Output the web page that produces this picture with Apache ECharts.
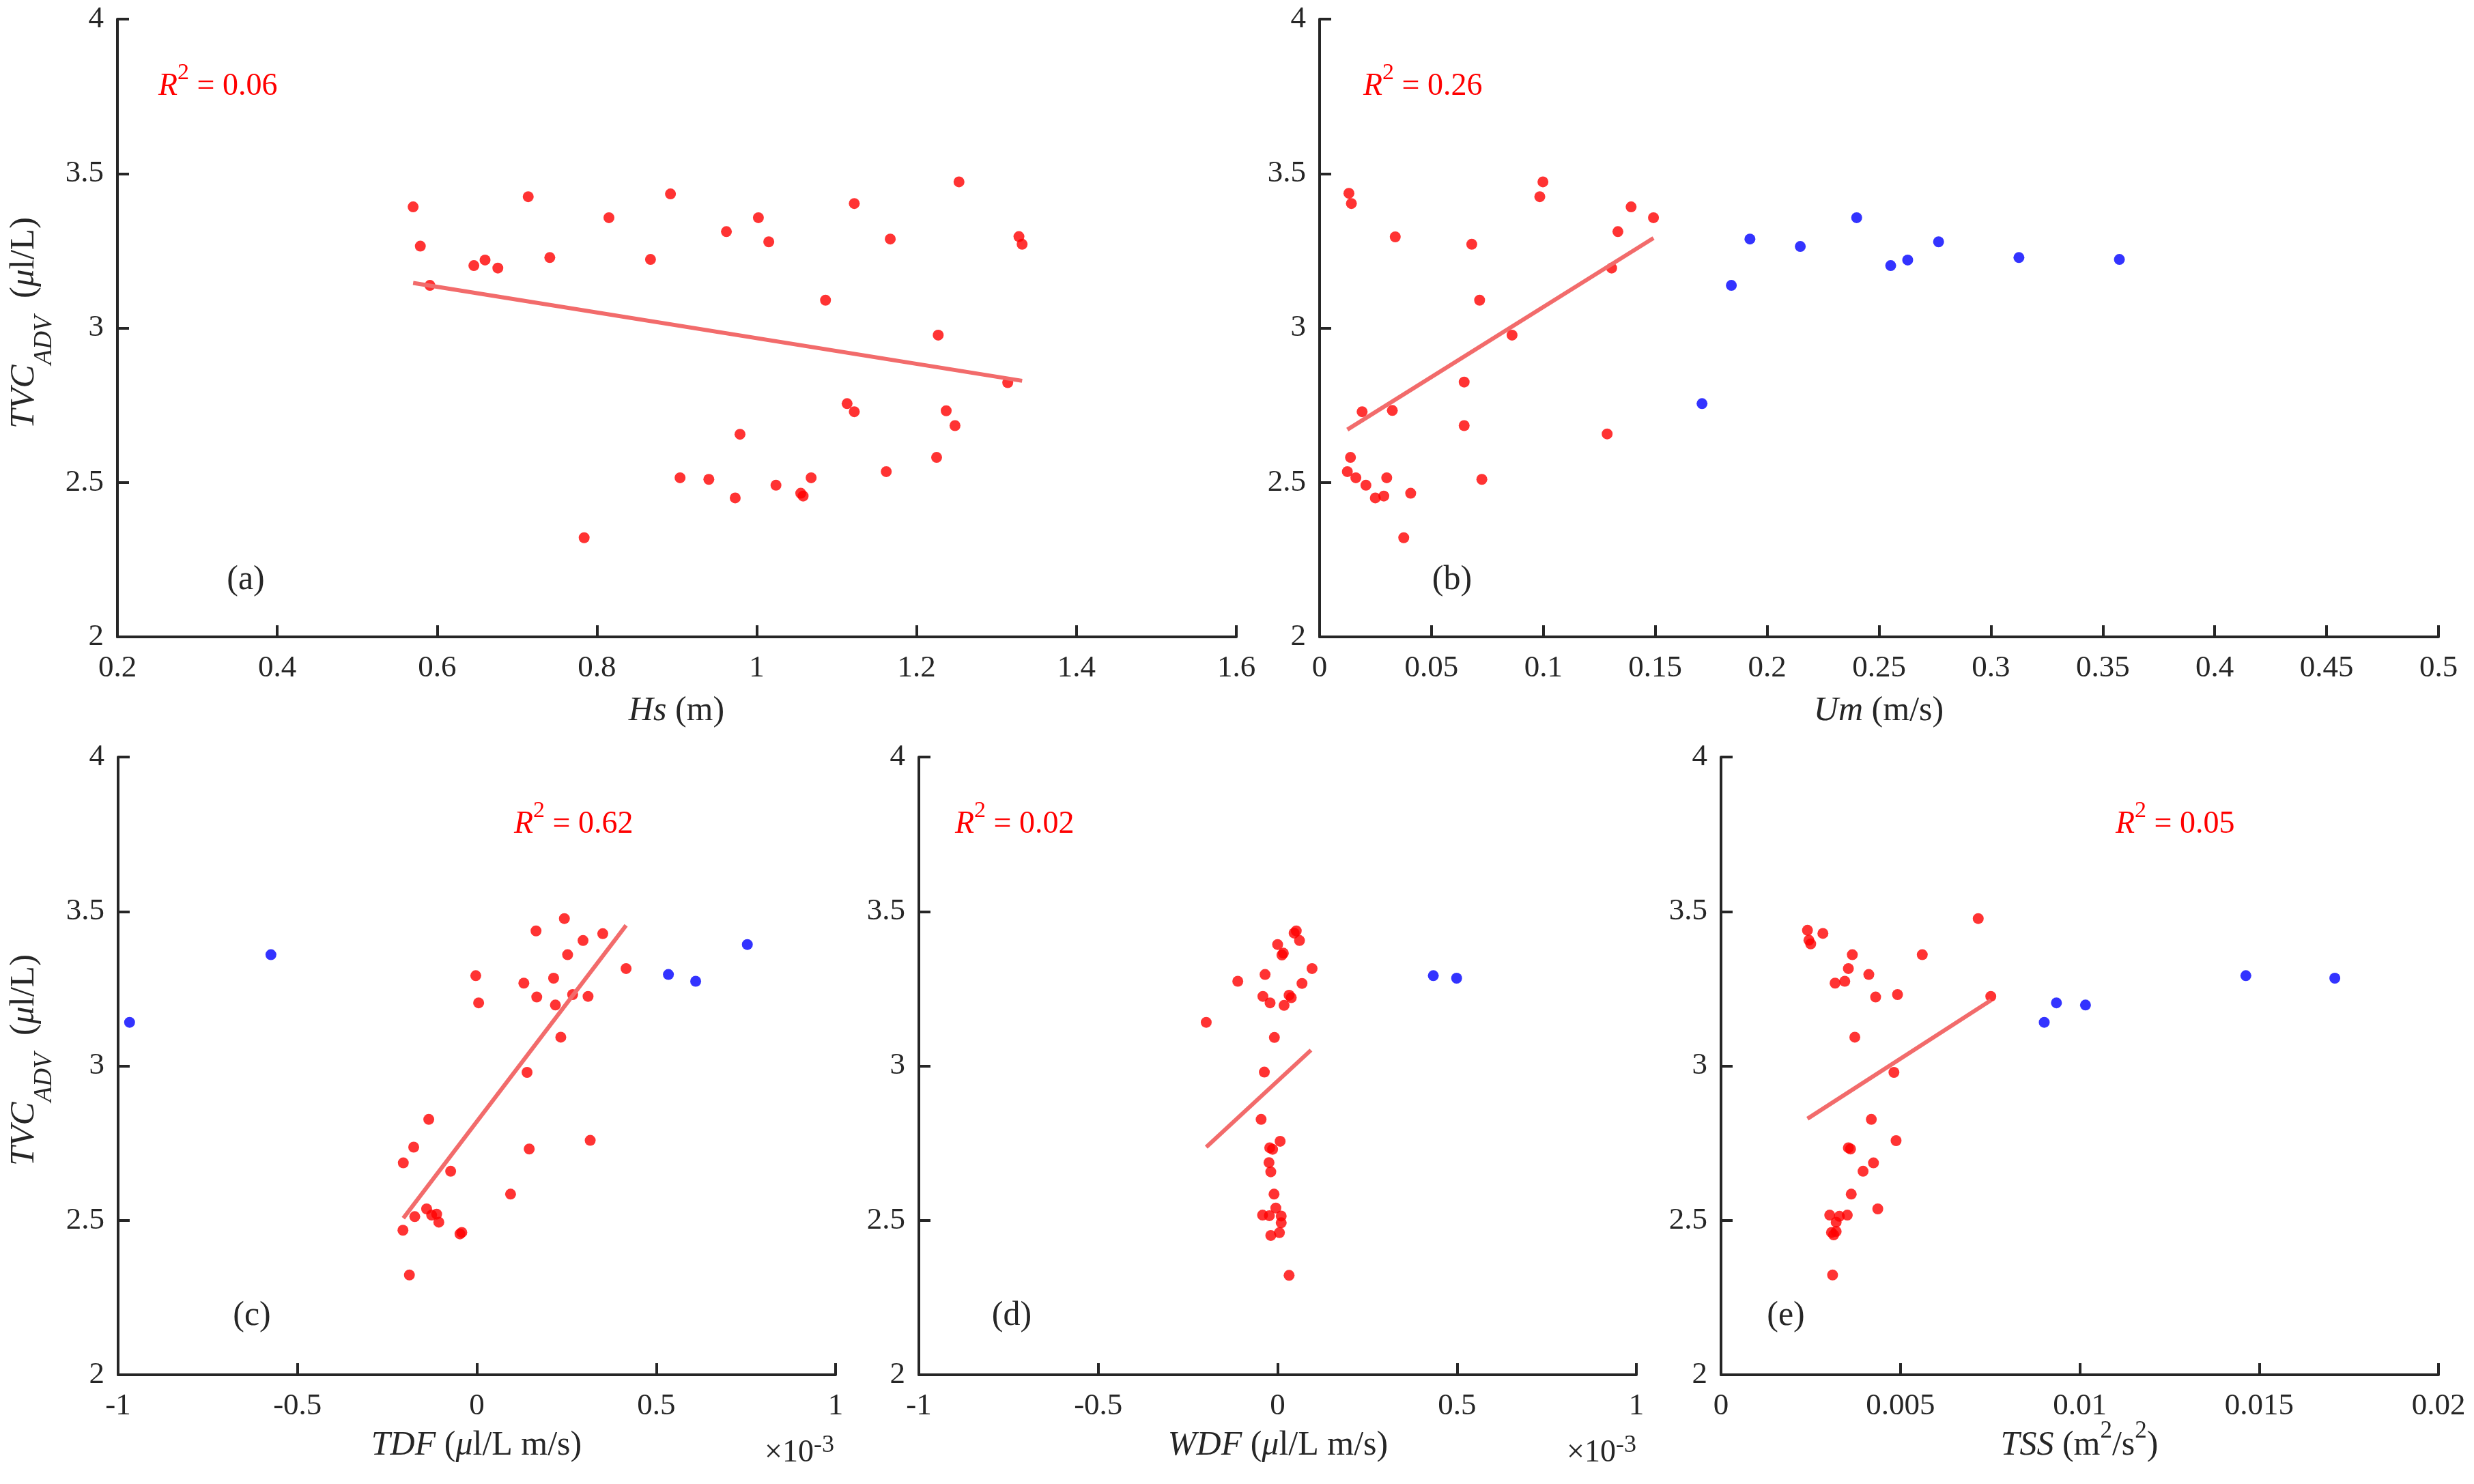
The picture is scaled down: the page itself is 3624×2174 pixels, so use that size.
<!DOCTYPE html>
<html><head><meta charset="utf-8">
<script src="https://cdn.jsdelivr.net/npm/echarts@6/dist/echarts.min.js"></script>
<style>html,body{margin:0;padding:0;background:#fff}#c{width:3624px;height:2174px}</style>
</head><body><div id="c"></div>
<script>
// ---------- DATA ----------
// (a) Hs (m) vs TVC_ADV
const hsX = [0.570,0.579,0.591,0.646,0.660,0.676,0.714,0.741,0.784,0.815,0.867,0.892,0.904,0.940,0.962,0.973,0.979,1.002,1.015,1.024,1.055,1.058,1.068,1.086,1.113,1.122,1.122,1.162,1.167,1.225,1.227,1.237,1.248,1.253,1.314,1.328,1.332];
const hsY = [3.392,3.265,3.138,3.202,3.220,3.194,3.425,3.228,2.321,3.357,3.222,3.434,2.515,2.510,3.312,2.450,2.656,3.357,3.279,2.491,2.465,2.456,2.515,3.090,2.755,2.729,3.403,2.535,3.288,2.581,2.977,2.732,2.684,3.473,2.823,3.296,3.271];
const hsFitX = [0.570, 1.332];
const hsFitY = [3.146, 2.829];

// (b) Um (m/s)
const umRedX = [0.0131,0.0142,0.0124,0.0138,0.0162,0.019,0.0207,0.0249,0.0287,0.030,0.0325,0.0338,0.0376,0.0407,0.0646,0.0646,0.068,0.0715,0.0725,0.086,0.0984,0.0998,0.1285,0.1305,0.1333,0.1392,0.1492];
const umRedY = [3.436,3.403,2.535,2.581,2.515,2.729,2.491,2.450,2.456,2.515,2.733,3.295,2.321,2.465,2.825,2.684,3.271,3.090,2.510,2.977,3.425,3.473,2.657,3.194,3.312,3.392,3.357];
const umBlueX = [0.1709,0.184,0.1923,0.2148,0.240,0.2552,0.2628,0.2766,0.3125,0.3574];
const umBlueY = [2.755,3.138,3.288,3.264,3.357,3.202,3.220,3.279,3.228,3.222];
const umFitX = [0.0124, 0.1492];
const umFitY = [2.671, 3.291];

// (c) TDF (x 10^-3)
const tdfRedX = [-0.205,-0.206,-0.188,-0.176,-0.173,-0.140,-0.134,-0.126,-0.112,-0.106,-0.073,-0.047,-0.042,-0.003,0.005,0.094,0.131,0.140,0.146,0.165,0.167,0.214,0.219,0.234,0.244,0.253,0.267,0.296,0.310,0.316,0.351,0.416];
const tdfRedY = [2.686,2.468,2.323,2.737,2.512,2.537,2.827,2.517,2.520,2.494,2.659,2.456,2.461,3.292,3.204,2.585,3.268,2.979,2.731,3.437,3.223,3.284,3.197,3.093,3.477,3.360,3.231,3.406,3.225,2.759,3.428,3.315];
const tdfBlueX = [-0.968,-0.574,0.534,0.610,0.754];
const tdfBlueY = [3.141,3.360,3.296,3.274,3.393];
const tdfFitX = [-0.205, 0.416];
const tdfFitY = [2.507, 3.455];

// (d) WDF (x 10^-3)
const wdfRedX = [0.052,0.046,0.061,0.000,0.012,0.016,0.096,-0.035,0.068,-0.041,-0.021,0.032,0.038,0.018,-0.009,-0.037,-0.046,0.007,-0.022,-0.014,-0.024,-0.019,-0.010,-0.005,-0.042,-0.023,0.010,0.010,0.005,-0.019,0.032,-0.199,-0.111];
const wdfRedY = [3.437,3.430,3.406,3.393,3.359,3.365,3.315,3.296,3.267,3.225,3.204,3.229,3.221,3.196,3.092,2.980,2.827,2.756,2.735,2.730,2.687,2.657,2.585,2.540,2.517,2.515,2.514,2.492,2.460,2.451,2.322,3.141,3.274];
const wdfBlueX = [0.434, 0.499];
const wdfBlueY = [3.292, 3.284];
const wdfFitX = [-0.199, 0.093];
const wdfFitY = [2.737, 3.051];

// (e) TSS (m2/s2)
const tssRedX = [0.00241,0.00245,0.00250,0.00284,0.00303,0.00308,0.00311,0.00314,0.00318,0.00321,0.00321,0.0033,0.00345,0.00352,0.00355,0.00355,0.00361,0.00363,0.00366,0.00373,0.00396,0.00412,0.00419,0.00425,0.00431,0.00437,0.00482,0.00488,0.00492,0.00561,0.00717,0.00752];
const tssRedY = [3.439,3.407,3.395,3.429,2.517,2.461,2.323,2.453,3.268,2.494,2.464,2.513,3.274,2.517,3.315,2.735,2.731,2.585,3.360,3.093,2.659,3.296,2.827,2.686,3.223,2.537,2.979,2.758,3.231,3.360,3.477,3.225];
const tssBlueX = [0.00901,0.00935,0.01016,0.01463,0.01711];
const tssBlueY = [3.141,3.204,3.197,3.292,3.284];
const tssFitX = [0.00241, 0.00752];
const tssFitY = [2.829, 3.212];

// axis ranges [min, max, interval]
const xRangeA = [0.2, 1.6, 0.2];
const xRangeB = [0, 0.5, 0.05];
const xRangeC = [-1, 1, 0.5];
const xRangeD = [-1, 1, 0.5];
const xRangeE = [0, 0.02, 0.005];
const yRange = [2, 4, 0.5];

const r2Labels = ['0.06', '0.26', '0.62', '0.02', '0.05'];
const panelLabels = ['(a)', '(b)', '(c)', '(d)', '(e)'];

// ---------- BUILD ----------
const FONT = '"Liberation Serif", "Times New Roman", serif';
const AX = '#262626';
const RED = '#ff0000';
const BLUE = '#0000ff';
const FIT = '#f26b6b';
const zip = (a, b) => a.map((v, i) => [v, b[i]]);

const grids = [
  {left: 172, top: 28, width: 1639, height: 905},
  {left: 1933, top: 28, width: 1639, height: 905},
  {left: 173, top: 1109, width: 1051, height: 905},
  {left: 1346, top: 1109, width: 1051, height: 905},
  {left: 2521, top: 1109, width: 1051, height: 905}
].map(g => Object.assign({outerBoundsMode: 'none', containLabel: false}, g));

function axisCommon(gi, r) {
  return {
    type: 'value', gridIndex: gi, min: r[0], max: r[1], interval: r[2],
    axisLine: {show: true, onZero: false, lineStyle: {color: AX, width: 4}},
    axisTick: {show: true, inside: true, length: 17, lineStyle: {color: AX, width: 4}},
    axisLabel: {color: AX, fontFamily: FONT, fontSize: 45, showMinLabel: true, showMaxLabel: true},
    splitLine: {show: false}
  };
}
const xRanges = [xRangeA, xRangeB, xRangeC, xRangeD, xRangeE];
const xAxes = xRanges.map((r, i) => {
  const a = axisCommon(i, r); a.axisLabel.margin = 24; return a;
});
const yAxes = xRanges.map((r, i) => {
  const a = axisCommon(i, yRange); a.axisLabel.margin = 20; return a;
});

function scat(i, x, y, color) {
  return {type: 'scatter', xAxisIndex: i, yAxisIndex: i, data: zip(x, y), symbol: 'circle',
    symbolSize: 16, itemStyle: {color: color}, silent: true, z: 2};
}
function fit(i, x, y) {
  return {type: 'line', xAxisIndex: i, yAxisIndex: i, data: zip(x, y), symbol: 'none', showSymbol: false,
    lineStyle: {color: FIT, width: 6, cap: 'butt'}, silent: true, z: 3};
}
const series = [
  scat(0, hsX, hsY, RED), fit(0, hsFitX, hsFitY),
  scat(1, umRedX, umRedY, RED), scat(1, umBlueX, umBlueY, BLUE), fit(1, umFitX, umFitY),
  scat(2, tdfRedX, tdfRedY, RED), scat(2, tdfBlueX, tdfBlueY, BLUE), fit(2, tdfFitX, tdfFitY),
  scat(3, wdfRedX, wdfRedY, RED), scat(3, wdfBlueX, wdfBlueY, BLUE), fit(3, wdfFitX, wdfFitY),
  scat(4, tssRedX, tssRedY, RED), scat(4, tssBlueX, tssBlueY, BLUE), fit(4, tssFitX, tssFitY)
];

function richSet(size, lh, color, supSize, subSize) {
  return {
    n: {fontFamily: FONT, fontSize: size, lineHeight: lh, fill: color, color: color, verticalAlign: 'middle'},
    i: {fontFamily: FONT, fontSize: size, fontStyle: 'italic', lineHeight: lh, fill: color, color: color, verticalAlign: 'middle'},
    sub: {fontFamily: FONT, fontSize: subSize || 32, fontStyle: 'italic', lineHeight: subSize || 32, fill: color, color: color, verticalAlign: 'bottom'},
    sup: {fontFamily: FONT, fontSize: supSize || 34, lineHeight: supSize || 34, fill: color, color: color, verticalAlign: 'top'}
  };
}
function txt(x, y, text, rich, align, rot) {
  return {type: 'text', x: x, y: y, rotation: rot || 0, silent: true, z: 10,
    style: {text: text, rich: rich, align: align || 'left', verticalAlign: 'middle',
      fontFamily: FONT, fontSize: 46, fill: AX}};
}
const yTitle = '{i|TVC}{sub|ADV}{n|  (}{i|μ}{n|l/L)}';
const richY = richSet(51, 96, AX, 36, 37);
const richT = richSet(50, 78, AX, 35, 34);
const richP = richSet(50, 60, AX, 35, 34);
const richR = richSet(46, 74, RED, 34, 32);
const richX = richSet(46, 58, AX, 36, 32);

const graphics = [
  txt(36, 473, yTitle, richY, 'center', Math.PI / 2),
  txt(36, 1553, yTitle, richY, 'center', Math.PI / 2),
  txt(991, 1042, '{i|Hs}{n| (m)}', richT, 'center'),
  txt(2752, 1042, '{i|Um}{n| (m/s)}', richT, 'center'),
  txt(698, 2118, '{i|TDF}{n| (}{i|μ}{n|l/L m/s)}', richT, 'center'),
  txt(1872, 2118, '{i|WDF}{n| (}{i|μ}{n|l/L m/s)}', richT, 'center'),
  txt(3046, 2118, '{i|TSS}{n| (m}{sup|2}{n|/s}{sup|2}{n|)}', richT, 'center'),
  txt(1222, 2129, '{n|×10}{sup|-3}', richX, 'right'),
  txt(2397, 2129, '{n|×10}{sup|-3}', richX, 'right')
];
const r2Pos = [[232, 127], [1997, 127], [753, 1208], [1399, 1208], [3099, 1208]];
r2Labels.forEach((v, i) => graphics.push(txt(r2Pos[i][0], r2Pos[i][1], '{i|R}{sup|2}{n| = ' + v + '}', richR, 'left')));
const plPos = [[360, 850], [2127, 850], [369, 1928], [1482, 1928], [2616, 1928]];
panelLabels.forEach((v, i) => graphics.push(txt(plPos[i][0], plPos[i][1], '{n|' + v + '}', richP, 'center')));

const chart = echarts.init(document.getElementById('c'), null, {renderer: 'canvas'});
chart.setOption({
  backgroundColor: '#ffffff',
  animation: false,
  grid: grids,
  xAxis: xAxes,
  yAxis: yAxes,
  series: series,
  graphic: graphics
});
</script></body></html>
